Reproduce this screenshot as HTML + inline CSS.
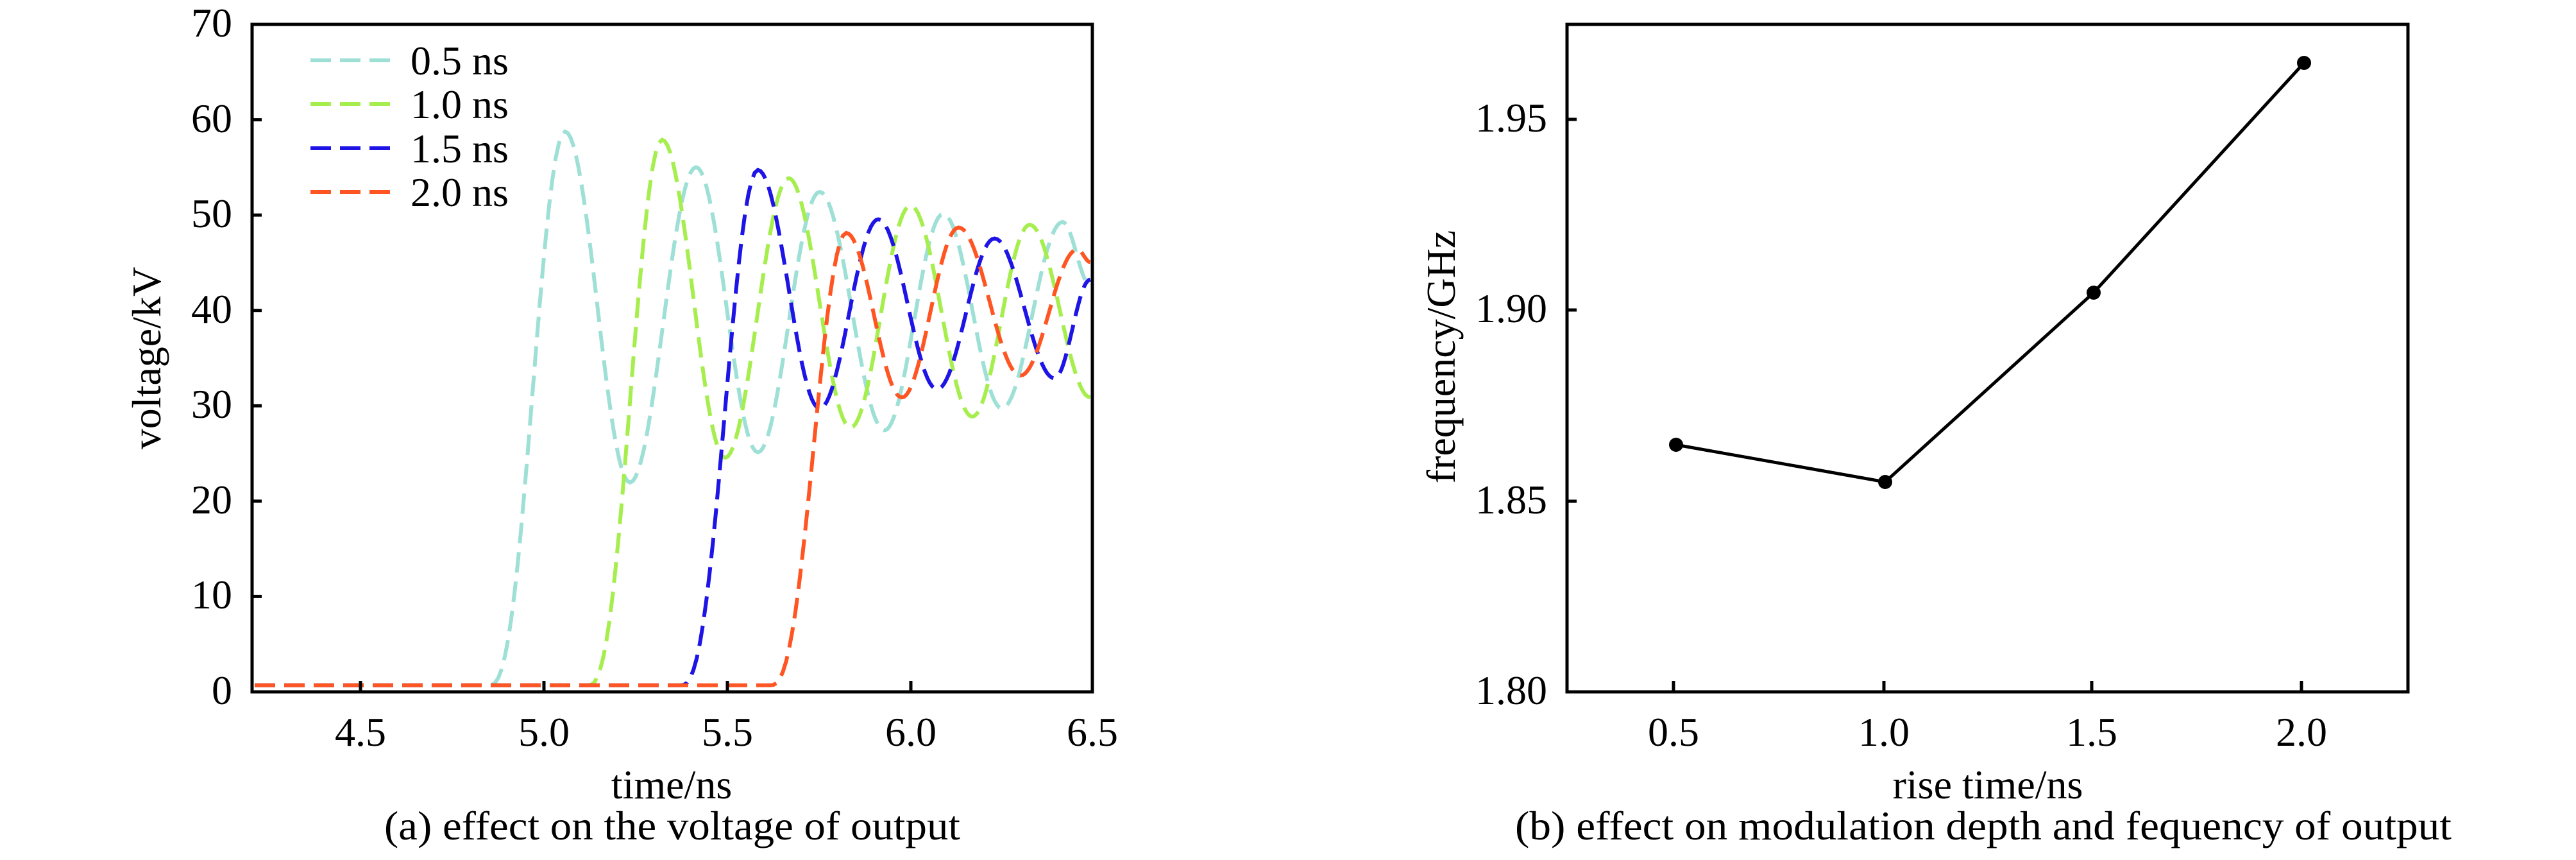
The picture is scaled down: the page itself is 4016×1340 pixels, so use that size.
<!DOCTYPE html>
<html><head><meta charset="utf-8"><style>
html,body{margin:0;padding:0;background:#fff;}
svg{display:block;}
text{font-family:"Liberation Serif",serif;fill:#000;}
</style></head><body>
<svg id="s" width="4016" height="1340" viewBox="0 0 4016 1340" xmlns="http://www.w3.org/2000/svg">
<g id="curves" fill="none" stroke-width="6" stroke-dasharray="32 14"></g>
<!-- left axes -->
<rect x="393" y="38" width="1310" height="1040" fill="none" stroke="#000" stroke-width="5"/>
<g stroke="#000" stroke-width="5">
<line x1="562" y1="1078" x2="562" y2="1061"/><line x1="848" y1="1078" x2="848" y2="1061"/>
<line x1="1134" y1="1078" x2="1134" y2="1061"/><line x1="1420" y1="1078" x2="1420" y2="1061"/>
<line x1="393" y1="929.4" x2="408" y2="929.4"/><line x1="393" y1="780.9" x2="408" y2="780.9"/>
<line x1="393" y1="632.3" x2="408" y2="632.3"/><line x1="393" y1="483.7" x2="408" y2="483.7"/>
<line x1="393" y1="335.1" x2="408" y2="335.1"/><line x1="393" y1="186.6" x2="408" y2="186.6"/>
</g>
<g font-size="64" text-anchor="end">
<text x="362" y="1097">0</text><text x="362" y="948">10</text><text x="362" y="800">20</text>
<text x="362" y="651">30</text><text x="362" y="503">40</text><text x="362" y="354">50</text>
<text x="362" y="206">60</text><text x="362" y="57">70</text>
</g>
<g font-size="64" text-anchor="middle">
<text x="562" y="1162">4.5</text><text x="848" y="1162">5.0</text><text x="1134" y="1162">5.5</text>
<text x="1420" y="1162">6.0</text><text x="1703" y="1162">6.5</text>
<text x="1047" y="1244">time/ns</text>
<text x="1048" y="1308" textLength="898" lengthAdjust="spacingAndGlyphs">(a) effect on the voltage of output</text>
<text transform="translate(250,558) rotate(-90)">voltage/kV</text>
</g>
<!-- legend -->
<g stroke-width="6" stroke-dasharray="32 14">
<line x1="484" y1="94" x2="610" y2="94" stroke="#9ee0d6"/>
<line x1="484" y1="162" x2="610" y2="162" stroke="#a6ee4e"/>
<line x1="484" y1="231" x2="610" y2="231" stroke="#1e14e6"/>
<line x1="484" y1="299" x2="610" y2="299" stroke="#ff5522"/>
</g>
<g font-size="64">
<text x="640" y="116">0.5 ns</text><text x="640" y="184">1.0 ns</text>
<text x="640" y="253">1.5 ns</text><text x="640" y="321">2.0 ns</text>
</g>
<!-- right axes -->
<rect x="2443" y="38" width="1311" height="1040" fill="none" stroke="#000" stroke-width="5"/>
<g stroke="#000" stroke-width="5">
<line x1="2609" y1="1078" x2="2609" y2="1061"/><line x1="2937" y1="1078" x2="2937" y2="1061"/>
<line x1="3261" y1="1078" x2="3261" y2="1061"/><line x1="3588" y1="1078" x2="3588" y2="1061"/>
<line x1="2443" y1="781" x2="2458" y2="781"/><line x1="2443" y1="483" x2="2458" y2="483"/>
<line x1="2443" y1="186" x2="2458" y2="186"/>
</g>
<g font-size="64" text-anchor="end">
<text x="2412" y="1097">1.80</text><text x="2412" y="800">1.85</text>
<text x="2412" y="502">1.90</text><text x="2412" y="205">1.95</text>
</g>
<g font-size="64" text-anchor="middle">
<text x="2609" y="1162">0.5</text><text x="2937" y="1162">1.0</text>
<text x="3261" y="1162">1.5</text><text x="3588" y="1162">2.0</text>
<text x="3099" y="1244">rise time/ns</text>
<text x="3092" y="1308" textLength="1460" lengthAdjust="spacingAndGlyphs">(b) effect on modulation depth and fequency of output</text>
<text transform="translate(2268,556) rotate(-90)">frequency/GHz</text>
</g>
<polyline points="2613,693 2939,751 3264,456 3592,98" fill="none" stroke="#000" stroke-width="5"/>
<g fill="#000">
<circle cx="2613" cy="693" r="11"/><circle cx="2939" cy="751" r="11"/>
<circle cx="3264" cy="456" r="11"/><circle cx="3592" cy="98" r="11"/>
</g>
</svg>
<script>
(function(){
var series=[
 ["#9ee0d6",[[480,1250],[603,240],[708,880],[815,305],[915,825],[1015,350],[1120,785],[1215,390],[1310,745],[1408,405],[1453,520]]],
 ["#a6ee4e",[[640,1250],[760,255],[862,835],[965,325],[1065,780],[1162,375],[1262,760],[1355,410],[1453,725]]],
 ["#1e14e6",[[790,1250],[915,310],[1015,745],[1110,400],[1205,710],[1298,435],[1395,690],[1453,510]]],
 ["#ff5522",[[935,1250],[1058,425],[1148,725],[1240,415],[1340,685],[1432,455],[1453,478]]]
];
function X(z){return z/1.038+300;} function Y(z){return z/1.1707;}
var g=document.getElementById('curves');
series.forEach(function(s){
 var p=s[1]; var d="M397,"+Y(1250).toFixed(1)+" L"+X(p[0][0]).toFixed(1)+","+Y(p[0][1]).toFixed(1);
 for(var i=0;i<p.length-1;i++){
  var x0=X(p[i][0]),y0=Y(p[i][1]),x1=X(p[i+1][0]),y1=Y(p[i+1][1]);
  var n=24;
  for(var k=1;k<=n;k++){
   var t=k/n, xx=x0+(x1-x0)*t, yy;
   if(i==0){ var e=(1-Math.cos(Math.PI*t))/2; e=Math.pow(e,1.3); yy=y0+(y1-y0)*e; }
   else yy=y0+(y1-y0)*(1-Math.cos(Math.PI*t))/2;
   d+=" L"+xx.toFixed(1)+","+yy.toFixed(1);
  }
 }
 var el=document.createElementNS("http://www.w3.org/2000/svg","path");
 el.setAttribute("d",d); el.setAttribute("stroke",s[0]); g.appendChild(el);
});
})();
</script>
</body></html>
